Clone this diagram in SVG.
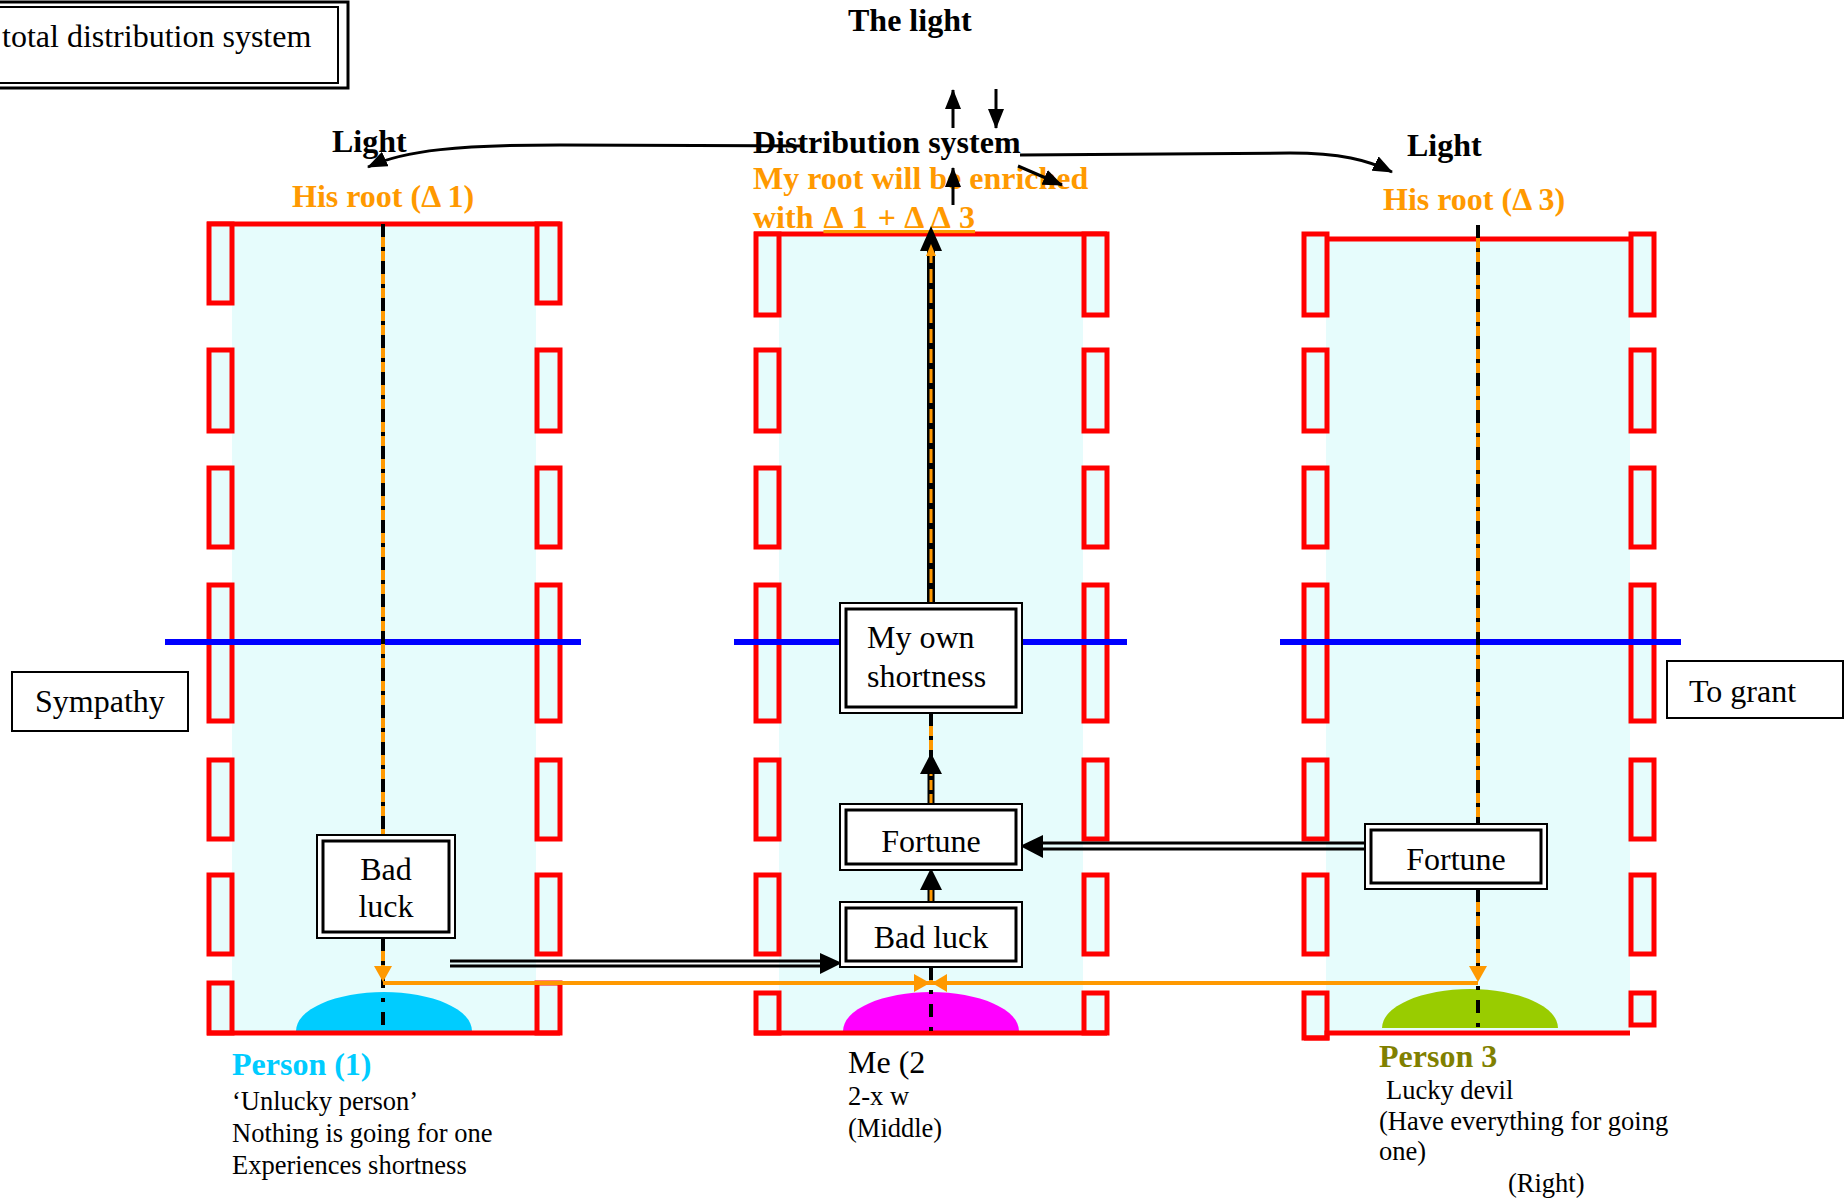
<svg xmlns="http://www.w3.org/2000/svg" width="1847" height="1199" viewBox="0 0 1847 1199">
<defs>
<style>
.t{font-family:"Liberation Serif","Times New Roman",serif;fill:#000}
.m{font-size:32px}
.s{font-size:26.5px}
.b{font-weight:bold;font-size:32px}
.o{fill:#FF9900}
.fill{fill:#E6FCFC}
.red{fill:#E6FCFC;stroke:#FF0000;stroke-width:5}
.rl{stroke:#FF0000;stroke-width:5;fill:none}
.blue{stroke:#0000FF;stroke-width:6}
.cor{stroke:#FF9900;stroke-width:4;fill:none}
.cbk{stroke:#000;stroke-width:4;stroke-dasharray:13 10 4 10;fill:none}
.box{fill:#fff;stroke:#000;stroke-width:2}
.boxi{fill:none;stroke:#000;stroke-width:3}
.ln{stroke:#000;stroke-width:3;fill:none}
</style>
<marker id="ah" viewBox="0 0 20 16" refX="19" refY="8" markerWidth="20" markerHeight="16" orient="auto" markerUnits="userSpaceOnUse">
<path d="M0,0 L20,8 L0,16 z" fill="#000"/>
</marker>
</defs>
<rect width="1847" height="1199" fill="#fff"/>

<g id="title">
<rect x="-10" y="2" width="358" height="86" fill="#fff" stroke="#000" stroke-width="3"/>
<rect x="-10" y="7" width="348" height="76" fill="none" stroke="#000" stroke-width="2"/>
<text class="t m" x="2" y="47">total distribution system</text>
</g>

<g id="col-left">
<rect class="fill" x="232" y="224" width="304" height="809"/>
<line class="rl" x1="207" y1="224" x2="560" y2="224"/>
<g class="red">
<rect x="209" y="224" width="23" height="79"/><rect x="537" y="224" width="23" height="79"/>
<rect x="209" y="350" width="23" height="81"/><rect x="537" y="350" width="23" height="81"/>
<rect x="209" y="468" width="23" height="79"/><rect x="537" y="468" width="23" height="79"/>
<rect x="209" y="585" width="23" height="136"/><rect x="537" y="585" width="23" height="136"/>
<rect x="209" y="760" width="23" height="79"/><rect x="537" y="760" width="23" height="79"/>
<rect x="209" y="875" width="23" height="79"/><rect x="537" y="875" width="23" height="79"/>
<rect x="209" y="983" width="23" height="50"/><rect x="537" y="983" width="23" height="50"/>
</g>
<line class="blue" x1="165" y1="642" x2="581" y2="642"/>
<path d="M296,1031 A88,39 0 0 1 472,1031 Z" fill="#00CCFF"/>
<line class="rl" x1="207" y1="1033" x2="560" y2="1033"/>
</g>

<g id="col-mid">
<rect class="fill" x="779" y="234" width="304" height="799"/>
<line class="rl" x1="754" y1="234" x2="1107" y2="234"/>
<g class="red">
<rect x="756" y="234" width="23" height="81"/><rect x="1084" y="234" width="23" height="81"/>
<rect x="756" y="350" width="23" height="81"/><rect x="1084" y="350" width="23" height="81"/>
<rect x="756" y="468" width="23" height="79"/><rect x="1084" y="468" width="23" height="79"/>
<rect x="756" y="585" width="23" height="136"/><rect x="1084" y="585" width="23" height="136"/>
<rect x="756" y="760" width="23" height="79"/><rect x="1084" y="760" width="23" height="79"/>
<rect x="756" y="875" width="23" height="79"/><rect x="1084" y="875" width="23" height="79"/>
<rect x="756" y="993" width="23" height="40"/><rect x="1084" y="993" width="23" height="40"/>
</g>
<line class="blue" x1="734" y1="642" x2="1127" y2="642"/>
<path d="M843,1031 A88,39 0 0 1 1019,1031 Z" fill="#FF00FF"/>
<line class="rl" x1="754" y1="1033" x2="1107" y2="1033"/>
</g>

<g id="col-right">
<rect class="fill" x="1326" y="239" width="304" height="794"/>
<line class="rl" x1="1302" y1="239" x2="1655" y2="239"/>
<g class="red">
<rect x="1304" y="234" width="23" height="81"/><rect x="1631" y="234" width="23" height="81"/>
<rect x="1304" y="350" width="23" height="81"/><rect x="1631" y="350" width="23" height="81"/>
<rect x="1304" y="468" width="23" height="79"/><rect x="1631" y="468" width="23" height="79"/>
<rect x="1304" y="585" width="23" height="136"/><rect x="1631" y="585" width="23" height="136"/>
<rect x="1304" y="760" width="23" height="79"/><rect x="1631" y="760" width="23" height="79"/>
<rect x="1304" y="875" width="23" height="79"/><rect x="1631" y="875" width="23" height="79"/>
<rect x="1304" y="993" width="23" height="45"/><rect x="1631" y="993" width="23" height="32"/>
</g>
<line class="blue" x1="1280" y1="642" x2="1681" y2="642"/>
<path d="M1382,1028 A88,39 0 0 1 1558,1028 Z" fill="#99CC00"/>
<polyline class="rl" points="1304,1038 1327,1038 1327,1033 1630,1033"/>
</g>

<g id="labels">
<text class="t b" x="848" y="31">The light</text>
<text class="t b" x="753" y="153">Distribution system</text>
<text class="t b o" x="753" y="189">My root will be enriched</text>
<text class="t b o" x="753" y="228" word-spacing="2">with <tspan text-decoration="underline">Δ 1 + Δ Δ 3</tspan></text>
<text class="t b" x="332" y="152">Light</text>
<text class="t b o" x="292" y="207">His root (Δ 1)</text>
<text class="t b" x="1407" y="156">Light</text>
<text class="t b o" x="1383" y="210">His root (Δ 3)</text>
<text class="t b" x="232" y="1075" style="fill:#00CCFF">Person (1)</text>
<text class="t s" x="232" y="1110">‘Unlucky person’</text>
<text class="t s" x="232" y="1142">Nothing is going for one</text>
<text class="t s" x="232" y="1174">Experiences shortness</text>
<text class="t m" x="848" y="1073">Me (2</text>
<text class="t s" x="848" y="1105">2-x w</text>
<text class="t s" x="848" y="1137">(Middle)</text>
<text class="t b" x="1379" y="1067" style="fill:#808000">Person 3</text>
<text class="t s" x="1386" y="1099">Lucky devil</text>
<text class="t s" x="1379" y="1130">(Have everything for going</text>
<text class="t s" x="1379" y="1160">one)</text>
<text class="t s" x="1508" y="1192">(Right)</text>
</g>

<g id="connectors">
<line class="cor" x1="383" y1="224" x2="383" y2="835"/>
<line class="cbk" x1="383" y1="224" x2="383" y2="835"/>
<line class="cor" x1="383" y1="938" x2="383" y2="968"/>
<line class="cbk" x1="383" y1="938" x2="383" y2="1033"/>
<line class="cor" x1="1478" y1="225" x2="1478" y2="824"/>
<line class="cbk" x1="1478" y1="225" x2="1478" y2="824"/>
<line class="cor" x1="1478" y1="889" x2="1478" y2="968"/>
<line class="cbk" x1="1478" y1="889" x2="1478" y2="1033"/>
<line stroke="#000" stroke-width="8" x1="931" y1="603" x2="931" y2="248"/>
<line stroke="#FF9900" stroke-width="3" stroke-dasharray="14 6" x1="931" y1="603" x2="931" y2="248"/>
<polygon points="931,226 920,251 942,251" fill="#000"/>
<polygon points="931,244 926,256 936,256" fill="#FF9900"/>
<line class="cor" x1="931" y1="713" x2="931" y2="772"/>
<line class="cbk" x1="931" y1="713" x2="931" y2="772"/>
<line stroke="#000" stroke-width="7" x1="931" y1="804" x2="931" y2="770"/>
<line stroke="#FF9900" stroke-width="3" stroke-dasharray="10 4" x1="931" y1="804" x2="931" y2="770"/>
<polygon points="931,753 920,774 942,774" fill="#000"/>
<line stroke="#000" stroke-width="7" x1="931" y1="902" x2="931" y2="888"/>
<line stroke="#FF9900" stroke-width="3" x1="931" y1="902" x2="931" y2="888"/>
<polygon points="931,868 920,890 942,890" fill="#000"/>
<line class="cor" x1="931" y1="967" x2="931" y2="983"/>
<line class="cbk" x1="931" y1="967" x2="931" y2="1033"/>
<line class="cor" x1="383" y1="983" x2="1478" y2="983"/>
<polygon points="374,966 392,966 383,982" fill="#FF9900"/>
<polygon points="1469,966 1487,966 1478,982" fill="#FF9900"/>
<polygon points="914,974 914,992 930,983" fill="#FF9900"/>
<polygon points="947,974 947,992 932,983" fill="#FF9900"/>
<line class="ln" stroke-width="2" x1="450" y1="961" x2="824" y2="961"/>
<line class="ln" stroke-width="2" x1="450" y1="966" x2="824" y2="966"/>
<polygon points="842,963 820,953 820,974" fill="#000"/>
<line class="ln" stroke-width="2" x1="1365" y1="843" x2="1040" y2="843"/>
<line class="ln" stroke-width="2" x1="1365" y1="849" x2="1040" y2="849"/>
<polygon points="1020,846 1043,835 1043,858" fill="#000"/>
<path class="ln" d="M800,146 L560,145 C460,145 405,150 368,167" marker-end="url(#ah)"/>
<path class="ln" d="M1020,155 L1290,153 C1340,153 1368,160 1392,172" marker-end="url(#ah)"/>
<line class="ln" x1="953" y1="128" x2="953" y2="90" marker-end="url(#ah)"/>
<line class="ln" x1="996" y1="89" x2="996" y2="128" marker-end="url(#ah)"/>
<line class="ln" x1="1018" y1="166" x2="1062" y2="185" marker-end="url(#ah)"/>
<line class="ln" x1="953" y1="205" x2="953" y2="168" marker-end="url(#ah)"/>
</g>

<g id="box-badluck-left">
<rect class="box" x="317" y="835" width="138" height="103"/>
<rect class="boxi" x="323" y="841" width="126" height="91"/>
<text class="t m" x="386" y="880" text-anchor="middle">Bad</text>
<text class="t m" x="386" y="917" text-anchor="middle">luck</text>
</g>
<g id="box-shortness">
<rect class="box" x="840" y="603" width="182" height="110"/>
<rect class="boxi" x="846" y="609" width="170" height="98"/>
<text class="t m" x="867" y="648">My own</text>
<text class="t m" x="867" y="687">shortness</text>
</g>
<g id="box-fortune-mid">
<rect class="box" x="840" y="804" width="182" height="66"/>
<rect class="boxi" x="846" y="810" width="170" height="54"/>
<text class="t m" x="931" y="852" text-anchor="middle">Fortune</text>
</g>
<g id="box-badluck-mid">
<rect class="box" x="840" y="902" width="182" height="65"/>
<rect class="boxi" x="846" y="908" width="170" height="53"/>
<text class="t m" x="931" y="948" text-anchor="middle">Bad luck</text>
</g>
<g id="box-fortune-right">
<rect class="box" x="1365" y="824" width="182" height="65"/>
<rect class="boxi" x="1371" y="830" width="170" height="53"/>
<text class="t m" x="1456" y="870" text-anchor="middle">Fortune</text>
</g>
<g id="box-sympathy">
<rect x="12" y="672" width="176" height="59" fill="#fff" stroke="#000" stroke-width="2"/>
<text class="t m" x="35" y="712">Sympathy</text>
</g>
<g id="box-grant">
<rect x="1667" y="661" width="176" height="57" fill="#fff" stroke="#000" stroke-width="2"/>
<text class="t m" x="1689" y="702">To grant</text>
</g>
</svg>
